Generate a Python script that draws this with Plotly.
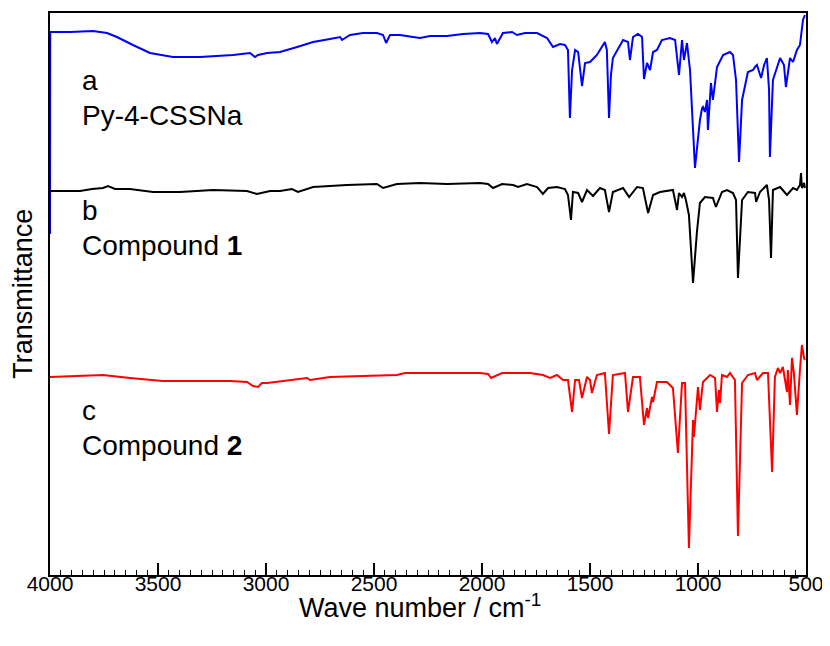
import plotly.graph_objects as go

# Wavenumber (cm^-1) and transmittance (arbitrary units, stacked)
wn_a = [4000, 3999, 3907, 3801, 3736, 3690, 3616, 3537, 3431, 3306, 3153, 3074, 3051, 3037, 2995, 2935,
        2856, 2782, 2704, 2657, 2648, 2611, 2551, 2486, 2458, 2444, 2426, 2380, 2319, 2287, 2241, 2162,
        2088, 2009, 1972, 1954, 1940, 1931, 1903, 1861, 1838, 1801, 1745, 1699, 1671, 1639, 1616, 1602,
        1593, 1583, 1569, 1555, 1537, 1523, 1500, 1468, 1431, 1422, 1412, 1403, 1394, 1347, 1324, 1315,
        1301, 1278, 1259, 1250, 1236, 1222, 1208, 1190, 1167, 1130, 1106, 1088, 1074, 1065, 1051, 1037,
        1014, 991, 981, 977, 968, 958, 954, 940, 931, 912, 884, 852, 838, 824, 810, 796, 769, 745, 736,
        727, 708, 694, 681, 671, 667, 653, 620, 602, 593, 574, 560, 542, 528, 514, 505]
t_a = [341, 543, 543, 544, 542, 538, 530, 522, 518, 518, 520, 522, 518, 520, 522, 523,
       528, 533, 536, 538, 535, 540, 542, 542, 540, 532, 540, 540, 538, 537, 539, 539,
       541, 542, 541, 533, 537, 531, 542, 543, 540, 542, 542, 537, 528, 531, 530, 525,
       457, 505, 525, 523, 489, 512, 513, 520, 533, 525, 457, 500, 517, 535, 533, 515,
       538, 541, 538, 496, 512, 505, 523, 525, 535, 537, 535, 500, 535, 515, 532, 505,
       407, 455, 467, 468, 463, 475, 445, 492, 475, 508, 520, 523, 520, 495, 413, 475, 503, 505, 508,
       510, 497, 510, 517, 485, 418, 495, 517, 510, 488, 517, 513, 525, 530, 555, 560]

wn_b = [4000, 3861, 3805, 3755, 3731, 3699, 3630, 3523, 3398, 3245, 3088, 3042, 2981, 2935, 2880, 2852,
        2782, 2625, 2486, 2458, 2394, 2287, 2162, 2009, 1972, 1949, 1907, 1856, 1833, 1792, 1745, 1718,
        1694, 1653, 1616, 1602, 1588, 1579, 1555, 1537, 1514, 1486, 1454, 1431, 1412, 1394, 1347, 1319,
        1282, 1255, 1231, 1208, 1176, 1116, 1097, 1088, 1074, 1065, 1056, 1042, 1023, 1005, 991, 968,
        931, 917, 889, 866, 838, 824, 815, 796, 769, 736, 731, 713, 681, 671, 662, 653, 620, 588, 560,
        542, 528, 523, 519, 509, 505]
t_b = [384, 384, 386, 387, 389, 386, 386, 383, 383, 385, 384, 381, 384, 384, 386, 383,
       388, 390, 391, 387, 391, 392, 391, 392, 391, 387, 391, 390, 388, 391, 388, 381,
       387, 388, 386, 380, 355, 383, 382, 373, 385, 379, 387, 385, 363, 383, 387, 378,
       388, 387, 362, 380, 383, 385, 365, 382, 378, 382, 375, 360, 292, 343, 372, 378,
       377, 368, 383, 385, 382, 375, 297, 375, 383, 382, 373, 383, 390, 375, 317, 385, 388, 380, 387,
       385, 390, 402, 387, 392, 387]

wn_c = [4000, 3861, 3755, 3630, 3477, 3319, 3167, 3088, 3060, 3037, 3019, 2995, 2856, 2810, 2796, 2704,
        2551, 2394, 2356, 2273, 2162, 2009, 1972, 1958, 1907, 1856, 1778, 1718, 1685, 1653, 1625, 1602,
        1583, 1569, 1551, 1537, 1514, 1500, 1491, 1468, 1431, 1412, 1394, 1338, 1324, 1301, 1269, 1250,
        1236, 1231, 1213, 1208, 1190, 1144, 1116, 1093, 1074, 1060, 1042, 1023, 1019, 1000, 991, 977,
        944, 921, 912, 903, 898, 889, 866, 852, 829, 815, 796, 769, 736, 727, 699, 676, 657, 644, 630,
        620, 607, 588, 584, 574, 565, 556, 542, 528, 519, 509, 505]
t_c = [198, 199, 200, 197, 194, 194, 194, 193, 189, 188, 192, 192, 196, 197, 195, 198,
       199, 200, 202, 202, 202, 202, 201, 197, 202, 202, 202, 200, 197, 200, 195, 195,
       163, 195, 195, 177, 198, 195, 182, 200, 202, 141, 200, 202, 163, 198, 198, 150,
       167, 157, 178, 173, 193, 193, 187, 122, 192, 192, 27, 155, 138, 188, 165, 193,
       200, 197, 163, 185, 172, 200, 198, 202, 195, 39, 192, 200, 202, 195, 202, 202, 103, 198, 207,
       202, 208, 183, 205, 170, 217, 202, 160, 205, 230, 217, 215]

names = ["Py-4-CSSNa", "Compound 1", "Compound 2"]
colors = ["#0000ff", "#000000", "#ff0000"]
letters = ["a", "b", "c"]
labels = ["Py-4-CSSNa", "Compound <b>1</b>", "Compound <b>2</b>"]
letter_y = [495, 365, 165]
label_y = [460, 330, 130]

x_ticks = [4000, 3500, 3000, 2500, 2000, 1500, 1000, 500]

FONT = "Arial, Liberation Sans, sans-serif"

fig = go.Figure()
for wn, t, nm, col in zip([wn_a, wn_b, wn_c], [t_a, t_b, t_c], names, colors):
    fig.add_trace(go.Scatter(x=wn, y=t, mode="lines", name=nm,
                             line=dict(color=col, width=2), showlegend=False))

for lt, lb, ly1, ly2 in zip(letters, labels, letter_y, label_y):
    fig.add_annotation(x=3860, y=ly1, xref="x", yref="y", xanchor="left", yanchor="middle",
                       text=lt, showarrow=False, font=dict(size=28, color="#000000", family=FONT))
    fig.add_annotation(x=3860, y=ly2, xref="x", yref="y", xanchor="left", yanchor="middle",
                       text=lb, showarrow=False, font=dict(size=28, color="#000000", family=FONT))

# axis titles
fig.add_annotation(x=0.49, y=-0.055, xref="paper", yref="paper", xanchor="center", yanchor="middle",
                   text="Wave number / cm<sup>-1</sup>", showarrow=False,
                   font=dict(size=27, color="#000000", family=FONT))
fig.add_annotation(x=-0.036, y=0.5, xref="paper", yref="paper", xanchor="center", yanchor="middle",
                   text="Transmittance", textangle=-90, showarrow=False,
                   font=dict(size=27, color="#000000", family=FONT))

fig.update_layout(
    width=822, height=638,
    margin=dict(l=42, r=24, t=5, b=71, autoexpand=False),
    paper_bgcolor="white", plot_bgcolor="white",
    font=dict(family=FONT, color="#000000"),
)
fig.update_xaxes(range=[4000, 500], tickvals=x_ticks, ticktext=[str(v) for v in x_ticks],
                 ticks="inside", ticklen=12, tickwidth=1.5, tickcolor="#000",
                 minor=dict(dtick=50, tick0=500, ticks="inside", ticklen=5, tickwidth=1.2, tickcolor="#000"),
                 showline=True, linecolor="#000", linewidth=2, mirror=True,
                 showgrid=False, zeroline=False, automargin=False,
                 ticklabelstandoff=-11,
                 tickfont=dict(size=21))
fig.update_yaxes(range=[0, 562], showticklabels=False, ticks="",
                 showline=True, linecolor="#000", linewidth=2, mirror=True,
                 showgrid=False, zeroline=False, automargin=False)

fig.write_html("out.html")
